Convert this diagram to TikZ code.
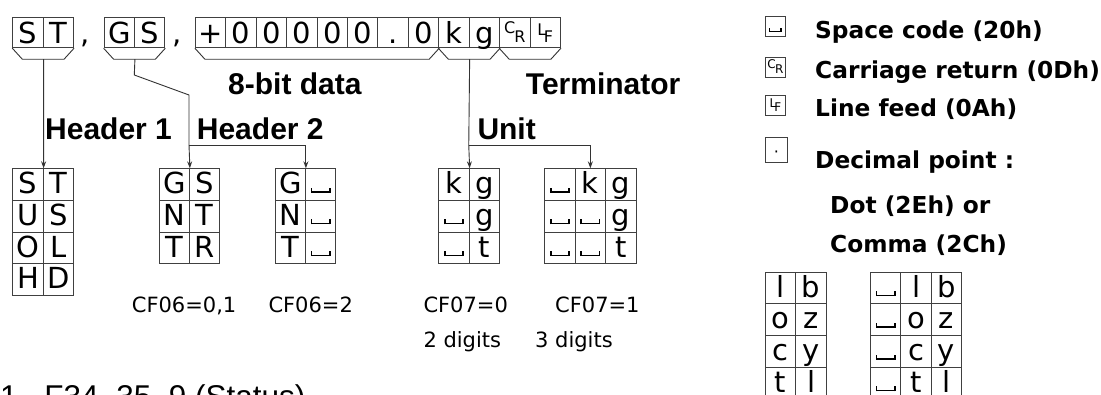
\documentclass[tikz,border=0pt]{standalone}
\usepackage{fontspec}
\setmainfont{DejaVu Sans}
\newfontfamily\djv{DejaVu Sans}
\newfontfamily\lib{Liberation Sans}
\usetikzlibrary{arrows.meta}

\newcommand\fCell{\djv\fontsize{29}{29}\selectfont}
\newcommand\fSmall{\djv\fontsize{16}{16}\selectfont}
\newcommand\fTiny{\djv\fontsize{12}{12}\selectfont}
\newcommand\fLab{\lib\bfseries\fontsize{30}{30}\selectfont}
\newcommand\fCf{\djv\fontsize{21}{21}\selectfont}
\newcommand\fLeg{\djv\bfseries\fontsize{23.3}{23.3}\selectfont}
\newcommand\fStat{\lib\fontsize{31.5}{31.5}\selectfont}
\newcommand\spsym{\makebox[30.4pt]{\rule[1pt]{1.6pt}{5pt}\rule[1pt]{16.8pt}{1.6pt}\rule[1pt]{1.6pt}{5pt}}}
\newcommand\spsmall{\rule[1pt]{1.3pt}{4pt}\rule[1pt]{10pt}{1.3pt}\rule[1pt]{1.3pt}{4pt}}
\newcommand\crsym{{\fSmall\raisebox{10pt}{C}\kern-1pt\raisebox{1.5pt}{R}}}
\newcommand\lfsym{{\fSmall\raisebox{8pt}{L}\kern-2.5pt\raisebox{1.5pt}{F}}}
\newcommand\crtiny{{\fTiny\raisebox{5pt}{C}\kern-0.5pt R}}
\newcommand\lftiny{{\fTiny\raisebox{4pt}{L}\kern-2pt F}}

\tikzset{
  cell/.style={draw=black!75, line width=0.9pt, minimum width=30.4pt, minimum height=31.7pt,
    inner sep=0pt, anchor=north west, font=\fCell, text height=22pt, text depth=3.7pt},
  topcell/.style={cell, minimum width=30.43pt, minimum height=30pt, text height=24pt, text depth=2pt},
  conn/.style={draw=black!80, line width=0.9pt},
  arr/.style={conn, -{Stealth[length=7pt,width=5pt]}},
  lbl/.style={font=\fLab, anchor=base west, inner sep=0pt},
  cf/.style={font=\fCf, anchor=base west, inner sep=0pt},
  leg/.style={font=\fLeg, anchor=base west, inner sep=0pt},
  legbox/.style={draw=black!75, line width=0.8pt, minimum width=20pt, minimum height=20pt,
    inner sep=0pt, anchor=north west, text height=13pt, text depth=0pt},
}

\begin{document}
\begin{tikzpicture}[x=1pt,y=-1pt]
\useasboundingbox (0,0) rectangle (1101,394);
\fill[white] (0,0) rectangle (1101,394);

% ---------- top row ----------
\foreach \k/\t in {0/S,1/T,3/G,4/S,6/+,7/0,8/0,9/0,10/0,11/0,12/.,13/0,14/k,15/g,16/\crsym,17/\lfsym}
  \node[topcell] (r\k) at ({12.3+30.43*\k},17.3) {\t};
\node[font=\fCell, anchor=base west, inner sep=0pt] (r2) at (80,43) {,};
\node[font=\fCell, anchor=base west, inner sep=0pt] (r5) at (172,43) {,};

% brackets
\foreach \a/\b in {0/1,3/4,6/13,14/15,16/17}
  \draw[conn] (r\a.south west) -- ++(10,11) -- ([shift={(-10,11)}]r\b.south east) -- (r\b.south east);

% ---------- tables ----------
\foreach \a/\b [count=\i] in {S/T,U/S,O/L,H/D}{
  \node[cell] (ta-\i-1) at (12.3,{168.3+31.7*(\i-1)}) {\a};
  \node[cell] (ta-\i-2) at (42.7,{168.3+31.7*(\i-1)}) {\b};
}
\foreach \a/\b [count=\i] in {G/S,N/T,T/R}{
  \node[cell] (tb-\i-1) at (158.6,{168.3+31.7*(\i-1)}) {\a};
  \node[cell] (tb-\i-2) at (189,{168.3+31.7*(\i-1)}) {\b};
}
\foreach \a/\b [count=\i] in {G/\spsym,N/\spsym,T/\spsym}{
  \node[cell] (tc-\i-1) at (274.6,{168.3+31.7*(\i-1)}) {\a};
  \node[cell] (tc-\i-2) at (305,{168.3+31.7*(\i-1)}) {\b};
}
\foreach \a/\b [count=\i] in {k/g,\spsym/g,\spsym/t}{
  \node[cell] (td-\i-1) at (438.35,{168.3+31.7*(\i-1)}) {\a};
  \node[cell] (td-\i-2) at (468.75,{168.3+31.7*(\i-1)}) {\b};
}
\foreach \a/\b/\c [count=\i] in {\spsym/k/g,\spsym/\spsym/g,\spsym/\spsym/t}{
  \node[cell] (te-\i-1) at (544.3,{168.3+31.7*(\i-1)}) {\a};
  \node[cell] (te-\i-2) at (574.7,{168.3+31.7*(\i-1)}) {\b};
  \node[cell] (te-\i-3) at (605.1,{168.3+31.7*(\i-1)}) {\c};
}
\foreach \a/\b [count=\i] in {l/b,o/z,c/y,t/l}{
  \node[cell] (tf-\i-1) at (765,{271.7+31.7*(\i-1)}) {\a};
  \node[cell] (tf-\i-2) at (795.4,{271.7+31.7*(\i-1)}) {\b};
}
\foreach \a/\b [count=\i] in {l/b,o/z,c/y,t/l}{
  \node[cell] (tg-\i-1) at (870,{271.7+31.7*(\i-1)}) {\spsym};
  \node[cell] (tg-\i-2) at (900.4,{271.7+31.7*(\i-1)}) {\a};
  \node[cell] (tg-\i-3) at (930.8,{271.7+31.7*(\i-1)}) {\b};
}

% ---------- connectors ----------
\coordinate (h1s) at ([shift={(0,11)}]r0.south east);
\draw[arr] (h1s) -- (ta-1-1.north east);

\coordinate (h2s) at ([shift={(0,11)}]r3.south east);
\coordinate (h2a) at (134.3,75);
\coordinate (h2b) at (189,95);
\coordinate (h2j) at (189,145);
\draw[conn] (h2s) -- (h2a) -- (h2b) -- (h2j);
\draw[arr] (h2j) -- (tb-1-1.north east);
\draw[arr] (h2j) -| (tc-1-1.north east);

\coordinate (us) at ([shift={(0,11)}]r14.south east);
\coordinate (uj) at (468.75,145);
\draw[conn] (us) -- (uj);
\draw[arr] (uj) -- (td-1-1.north east);
\draw[arr] (uj) -| (te-1-2.north);

% ---------- labels ----------
\node[lbl] (l8) at (228,94) {8-bit data};
\node[lbl] (lt) at (525.7,94) {Terminator};
\node[lbl] (lh1) at (45,139) {Header 1};
\node[lbl] (lh2) at (196.7,139) {Header 2};
\node[lbl] (lu) at (477.3,139) {Unit};

\node[cf] (cf1) at (131.7,312) {CF06=0,1};
\node[cf] (cf2) at (268.3,312) {CF06=2};
\node[cf] (cf3) at (423.3,312) {CF07=0};
\node[cf] (cf4) at (555,312) {CF07=1};
\node[cf] (dg2) at (423.3,347.3) {2 digits};
\node[cf] (dg3) at (535,347.3) {3 digits};

% ---------- legend ----------
\node[legbox] (ks) at (765,16) {\spsmall};
\node[legbox] (kc) at (765,57) {\crtiny};
\node[legbox] (kl) at (765,95) {\lftiny};
\node[legbox, minimum width=22pt, minimum height=25pt, text height=16pt] (kd) at (765,137) {\fSmall ·};
\node[leg] (ts) at (815,38.5) {Space code (20h)};
\node[leg] (tc) at (815,78.5) {Carriage return (0Dh)};
\node[leg] (tl) at (815,116.5) {Line feed (0Ah)};
\node[leg] (td) at (815,168.5) {Decimal point :};
\node[leg] (tdo) at (830,213.5) {Dot (2Eh) or};
\node[leg] (tco) at (830,252.5) {Comma (2Ch)};

% ---------- status line (cut off at the lower edge, as in the reference) ----------
\node[font=\fStat, anchor=base west, inner sep=0pt] (stat) at (0,407) {1\hspace{26.8pt}F34, 35, 9 (Status)};
\end{tikzpicture}
\end{document}
